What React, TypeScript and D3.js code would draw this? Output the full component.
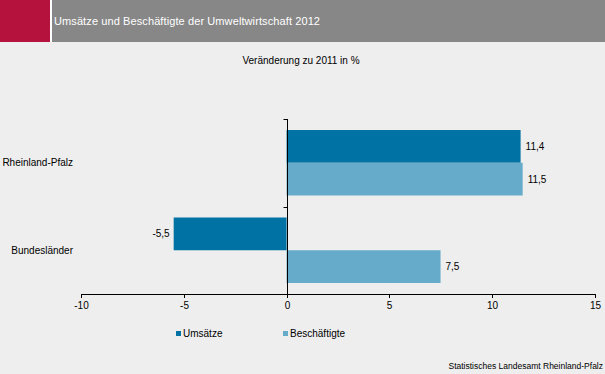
import { useEffect, useRef } from 'react';
import * as d3 from 'd3';

const categories = ['Rheinland-Pfalz', 'Bundesländer'];
const seriesNames = ['Umsätze', 'Beschäftigte'];
const umsaetze = [11.4, -5.5];
const beschaeftigte = [11.5, 7.5];
const xTicks = [-10, -5, 0, 5, 10, 15];

const colors = ['#0072a3', '#66abc9'];
const W = 605;
const H = 374;

export default function App() {
  const svgRef = useRef<SVGSVGElement>(null);

  useEffect(() => {
    if (!svgRef.current) return;
    const svg = d3.select(svgRef.current);
    svg.selectAll('*').remove();
    const font = 'Liberation Sans, Arial, sans-serif';

    // background
    svg.append('rect').attr('width', W).attr('height', H).attr('fill', '#eeeeee');

    // header
    svg.append('rect').attr('x', 0).attr('y', 0).attr('width', 50).attr('height', 42).attr('fill', '#b5123e');
    svg.append('rect').attr('x', 50).attr('y', 0).attr('width', 2).attr('height', 42).attr('fill', '#ffffff');
    svg.append('rect').attr('x', 52).attr('y', 0).attr('width', W - 52).attr('height', 42).attr('fill', '#878787');
    svg.append('text')
      .attr('x', 54).attr('y', 25)
      .attr('fill', '#ffffff')
      .attr('font-family', font).attr('font-size', '11px')
      .attr('letter-spacing', '0.1px')
      .text('Umsätze und Beschäftigte der Umweltwirtschaft 2012');

    svg.append('text')
      .attr('x', 301).attr('y', 64)
      .attr('text-anchor', 'middle')
      .attr('fill', '#000')
      .attr('font-family', font).attr('font-size', '10px')
      .text('Veränderung zu 2011 in %');

    const x = d3.scaleLinear().domain([-10, 15]).range([81.3, 594.5]);
    const y = d3.scaleBand<string>().domain(categories).range([119, 294])
      .paddingInner(0.2514).paddingOuter(0.1257);
    const ySub = d3.scaleBand<string>().domain(seriesNames).range([0, y.bandwidth()]);

    const seriesValues = [umsaetze, beschaeftigte];
    const g = svg.append('g');

    seriesNames.forEach((s, si) => {
      categories.forEach((c, ci) => {
        const v = seriesValues[si][ci];
        const y0 = (y(c) ?? 0) + (ySub(s) ?? 0);
        g.append('rect')
          .attr('x', x(Math.min(0, v)))
          .attr('y', y0)
          .attr('width', Math.abs(x(v) - x(0)))
          .attr('height', ySub.bandwidth())
          .attr('fill', colors[si]);
        const label = String(v).replace('.', ',');
        g.append('text')
          .attr('x', v >= 0 ? x(v) + 5 : x(v) - 4)
          .attr('y', y0 + ySub.bandwidth() / 2 + 3.5)
          .attr('text-anchor', v >= 0 ? 'start' : 'end')
          .attr('fill', '#000')
          .attr('font-family', font).attr('font-size', '10px')
          .text(label);
      });
    });

    // y axis
    const x0 = Math.round(x(0)) + 0.5;
    const yAxis = g.append('g');
    yAxis.append('line')
      .attr('x1', x0).attr('x2', x0)
      .attr('y1', 119).attr('y2', 298)
      .attr('stroke', '#000');
    const catBounds = [119, ...categories.slice(1).map(c => (y(c) ?? 0) - y.step() * y.paddingInner() / 2)];
    catBounds.forEach(b => {
      yAxis.append('line')
        .attr('x1', x0 - 4).attr('x2', x0)
        .attr('y1', Math.round(b) + 0.5).attr('y2', Math.round(b) + 0.5)
        .attr('stroke', '#000');
    });
    categories.forEach((c) => {
      yAxis.append('text')
        .attr('x', 73)
        .attr('y', (y(c) ?? 0) + y.bandwidth() / 2 + 3.5)
        .attr('text-anchor', 'end')
        .attr('fill', '#000')
        .attr('font-family', font).attr('font-size', '10px')
        .text(c);
    });

    // x axis
    const xAxis = g.append('g');
    xAxis.append('line')
      .attr('x1', x(-10)).attr('x2', x(15) + 1)
      .attr('y1', 294.5).attr('y2', 294.5)
      .attr('stroke', '#000');
    xTicks.forEach(t => {
      const tx = Math.round(x(t)) + 0.5;
      xAxis.append('line')
        .attr('x1', tx).attr('x2', tx)
        .attr('y1', 294).attr('y2', 298)
        .attr('stroke', '#000');
      xAxis.append('text')
        .attr('x', tx)
        .attr('y', 309)
        .attr('text-anchor', 'middle')
        .attr('fill', '#000')
        .attr('font-family', font).attr('font-size', '10px')
        .text(String(t));
    });

    // legend
    const legendX = [176, 283];
    seriesNames.forEach((s, i) => {
      svg.append('rect')
        .attr('x', legendX[i]).attr('y', 331)
        .attr('width', 5).attr('height', 5)
        .attr('fill', colors[i]);
      svg.append('text')
        .attr('x', legendX[i] + 7).attr('y', 337)
        .attr('fill', '#000')
        .attr('font-family', font).attr('font-size', '10px')
        .text(s);
    });

    svg.append('text')
      .attr('x', 603).attr('y', 369)
      .attr('text-anchor', 'end')
      .attr('fill', '#000')
      .attr('font-family', font).attr('font-size', '8.5px')
      .text('Statistisches Landesamt Rheinland-Pfalz');
  }, []);

  return (
    <svg
      ref={svgRef}
      width={W}
      height={H}
      style={{ position: 'absolute', left: 0, top: 0, display: 'block' }}
    />
  );
}
